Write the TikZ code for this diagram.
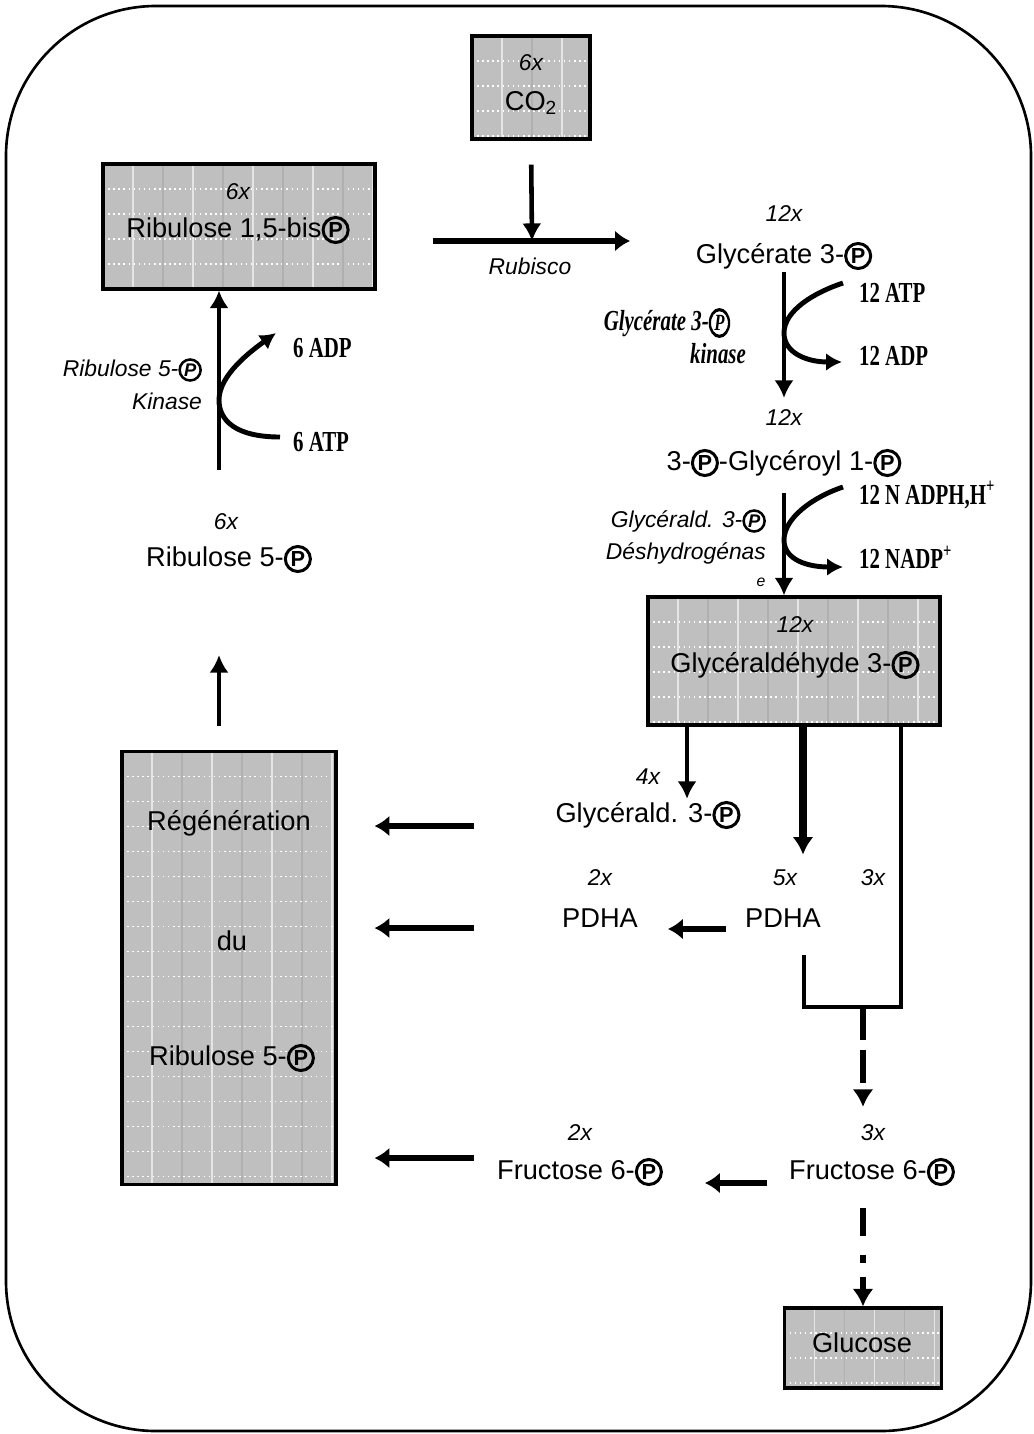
\documentclass[tikz,border=0pt]{standalone}
\usepackage{fontspec}
\setmainfont{Liberation Sans}
\newfontfamily\tnr{Liberation Serif}
\usetikzlibrary{arrows.meta,calc}

% circled phosphate
\newcommand{\Pc}{\tikz[baseline=(pcirc.base)]\node[circle,draw,line width=0.11em,inner sep=0pt,minimum size=0.92em](pcirc){\bfseries\scalebox{0.8}{P}};}
\newcommand{\cof}[1]{\scalebox{0.72}[1]{#1}}

\begin{document}
\begin{tikzpicture}[x=0.02cm,y=-0.02cm,
pool/.style={draw=black,line width=1.8pt,fill=gray!50,inner sep=0pt,
  path picture={
    \foreach \k in {1,...,20}{
      \ifodd\k \def\gc{gray!20}\else\def\gc{gray!62}\fi
      \draw[\gc,line width=0.9pt] ([xshift=\k*0.6cm]path picture bounding box.north west) -- ([xshift=\k*0.6cm]path picture bounding box.south west);
      \draw[white,line width=0.9pt,dotted] ([yshift=-\k*0.5cm]path picture bounding box.north west) -- ([yshift=-\k*0.5cm]path picture bounding box.north east);
    }}},
txt/.style={font=\fontsize{15.5}{18}\selectfont,inner sep=1pt},
cnt/.style={font=\fontsize{13}{15}\selectfont\itshape,inner sep=1pt},
enz/.style={font=\fontsize{13}{15}\selectfont\itshape,inner sep=1pt},
enzs/.style={font=\fontsize{16.5}{18}\selectfont\tnr\bfseries\itshape,inner sep=1pt},
cof/.style={font=\fontsize{16.5}{18}\selectfont\tnr\bfseries,inner sep=1pt,anchor=west},
vflux/.style={line width=2.6pt,-{Latex[length=10pt,width=11pt]}},
hflux/.style={line width=3.4pt,-{Latex[length=8.5pt,width=12pt]}},
tflux/.style={line width=4.4pt,-{Latex[length=10pt,width=12pt]}},
hook/.style={line width=2.8pt,-{Latex[length=9pt,width=10pt]}},
bracket/.style={line width=1.9pt},
dflux/.style={line width=3.6pt,dash pattern=on 0.66cm off 0.2cm,-{Latex[length=10pt,width=12pt]}},
ddflux/.style={line width=3.6pt,dash pattern=on 0.55cm off 0.38cm on 0.16cm off 0.28cm,-{Latex[length=10pt,width=12pt]}},
]
\useasboundingbox (0,0) rectangle (1034,1434);
\draw[line width=1.5pt,rounded corners=3cm] (6,6) rectangle (1031,1431);

% boxes
\node[pool,minimum width=2.36cm,minimum height=2.06cm] (co2box) at (531,87.5) {};
\node[cnt] (co2x) at (531,63) {6x};
\node[txt] (co2) at (531,103) {CO\textsubscript{2}};

\node[pool,minimum width=5.44cm,minimum height=2.5cm] (rubp) at (239,226.5) {};
\node[cnt] (rubpx) at (238,192) {6x};
\node[txt] (rubpt) at (238,230) {Ribulose 1,5-bis\Pc};

\node[pool,minimum width=5.84cm,minimum height=2.56cm] (gap) at (794,661) {};
\node[cnt] (gapx) at (795,625) {12x};
\node[txt] (gapt) at (795,665) {Glycéraldéhyde 3-\Pc};

\node[pool,minimum width=4.28cm,minimum height=8.66cm] (regen) at (229,968) {};
\node[txt] (regen1) at (229,823) {Régénération};
\node[txt] (regen2) at (232,941) {du};
\node[txt] (regen3) at (232,1058) {Ribulose 5-\Pc};

\node[pool,minimum width=3.14cm,minimum height=1.6cm] (glc) at (863,1348) {};
\node[txt] (glct) at (862,1343) {Glucose};

% metabolites
\node[cnt] (g3px) at (784,214) {12x};
\node[txt] (g3p) at (784,256) {Glycérate 3-\Pc};
\node[cnt] (bpgx) at (784,418) {12x};
\node[txt] (bpg) at (784,463) {3-\Pc-Glycéroyl 1-\Pc};
\node[cnt] (gap4x) at (648,777) {4x};
\node[txt] (gap4) at (648,815) {Glycérald. 3-\Pc};
\node[cnt] (dha2x) at (600,878) {2x};
\node[txt] (dha2) at (600,918) {PDHA};
\node[cnt] (dha5x) at (785,878) {5x};
\node[txt] (dha5) at (783,918) {PDHA};
\node[cnt] (g3x) at (873,878) {3x};
\node[cnt] (f6p2x) at (580,1133) {2x};
\node[txt] (f6p2) at (580,1172) {Fructose 6-\Pc};
\node[cnt] (f6p3x) at (873,1133) {3x};
\node[txt] (f6p3) at (872,1172) {Fructose 6-\Pc};
\node[cnt] (ru5px) at (226,522) {6x};
\node[txt] (ru5p) at (229,559) {Ribulose 5-\Pc};

% enzymes
\node[enz] (rubisco) at (530,266) {Rubisco};
\node[enz,anchor=east] (prk1) at (204,370) {Ribulose 5-\Pc};
\node[enz,anchor=east] (prk2) at (204,401) {Kinase};
\node[enzs] (pgk1) at (667,323) {\cof{Glycérate 3-\Pc}};
\node[enzs] (pgk2) at (718,354) {\cof{kinase}};
\node[enz,anchor=east] (gapdh1) at (768,521) {Glycérald. 3-\Pc};
\node[enz,anchor=east] (gapdh2) at (768,553) {Déshydrogénas};
\node[enz,font=\fontsize{9}{10}\selectfont\itshape] (gapdh3) at (761,582) {e};

% cofactors
\node[cof] (atp6) at (291,442) {\cof{6 ATP}};
\node[cof] (adp6) at (291,348) {\cof{6 ADP}};
\node[cof] (atp12) at (857,293) {\cof{12 ATP}};
\node[cof] (adp12) at (857,356) {\cof{12 ADP}};
\node[cof] (nadph) at (857,495) {\cof{12 N ADPH,H\textsuperscript{+}}};
\node[cof] (nadp) at (857,557) {\cof{12 NADP\textsuperscript{+}}};

% carboxylation
\coordinate (rubA) at (433,241);
\coordinate (rubB) at (532,241);
\coordinate (rubC) at (630,241);
\draw[hflux] (rubA) -- (rubC);
\draw[vflux,shorten <=0.48cm] (co2box.south) -- (rubB);

% reduction
\coordinate (k1) at (784,333);
\coordinate (k2) at (784,540);
\draw[vflux,shorten >=0.2cm] (g3p.south) -- (g3p.south |- bpgx.north);
\draw[hook] ([shift={(-14,-10)}]atp12.west) .. controls +(-30,10) and +(0,-22) .. (k1) .. controls +(0,20) and +(-35,0) .. ([shift={(-15,6)}]adp12.west);
\draw[vflux,shorten <=0.28cm] (bpg.south) -- (bpg.south |- gap.north);
\draw[hook] ([shift={(-14,-8)}]nadph.west) .. controls +(-30,10) and +(0,-22) .. (k2) .. controls +(0,20) and +(-35,0) .. ([shift={(-14,10)}]nadp.west);

% triose phosphates
\draw[vflux] ([xshift=-2.14cm]gap.south) -- ([xshift=-2.14cm]gap.south |- gap4.north);
\draw[tflux] ([xshift=0.18cm]gap.south) -- ++(0,128);
\coordinate (dhaend) at (804,955);
\coordinate (join) at (863,1007);
\draw[bracket] ([xshift=2.14cm]gap.south) |- (dhaend |- join) -- (dhaend);
\draw[dflux,shorten >=0.32cm] (join) -- (join |- f6p3x.north);
\draw[hflux,shorten <=0.34cm,shorten >=0.56cm] ([yshift=-0.22cm]dha5.west) -- ([yshift=-0.22cm]dha2.east);
\draw[hflux,shorten <=0.4cm,shorten >=0.8cm] ([yshift=-0.22cm]f6p3.west) -- ([yshift=-0.22cm]f6p2.east);
\draw[ddflux,shorten <=0.4cm] (f6p3.south -| join) -- (glc.north -| join);

% regeneration
\draw[hflux] (regen.east |- gap4) ++(136,11) -- ++(-99,0);
\draw[hflux] (regen.east |- dha2) ++(136,10) -- ++(-99,0);
\draw[hflux] (regen.east |- f6p2) ++(136,-14) -- ++(-99,0);
\coordinate (prkbot) at (219,470);
\coordinate (k3) at (219,400);
\draw[vflux,shorten <=0.48cm,shorten >=1.6cm] (regen.north -| prkbot) -- (prkbot |- ru5p.south);
\draw[vflux] (prkbot) -- (prkbot |- rubp.south);
\draw[hook] ([shift={(-11,-5)}]atp6.west) .. controls +(-45,0) and +(0,20) .. (k3) .. controls +(0,-25) and +(-25,18) .. ([shift={(-15,-15)}]adp6.west);
\end{tikzpicture}
\end{document}
